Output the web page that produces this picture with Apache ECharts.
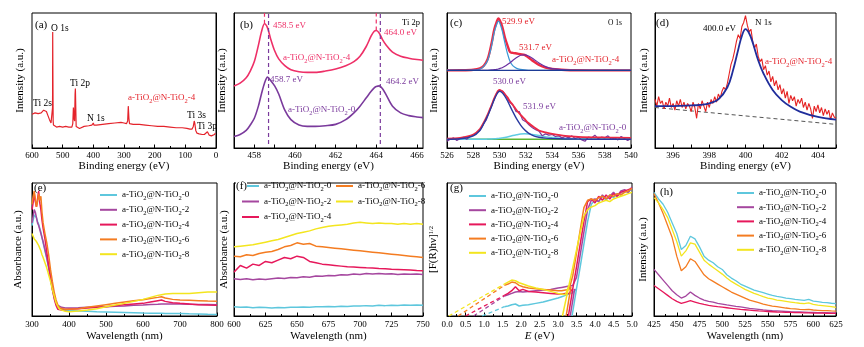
<!DOCTYPE html>
<html><head><meta charset="utf-8">
<script src="https://cdn.jsdelivr.net/npm/echarts@6/dist/echarts.min.js"></script>
<style>html,body{margin:0;padding:0;background:#fff}#c{width:864px;height:347px}</style>
</head><body><div id="c"></div>
<script>
const FONT = "'Liberation Serif','Times New Roman',serif";
const SAMPLES = ['a-TiO2@N-TiO2-0','a-TiO2@N-TiO2-2','a-TiO2@N-TiO2-4','a-TiO2@N-TiO2-6','a-TiO2@N-TiO2-8'];
const COLORS = ['#5ec7dd','#a5479f','#e6185b','#f47c21','#f3e51f'];

// ---------- (a) XPS survey ----------
const aX = [600,590,580,570,562,558,553,548,543,538,535,533,532.5,532,531,530,528,525,520,510,500,490,480,470,467,465,463,461,459.5,458.5,456,452,445,430,415,405,400,398,390,370,350,330,310,300,292,288,286,284,282,278,270,250,230,210,190,170,150,130,110,95,85,78,74,71,69,66,62,55,45,38,35,32,28,22,15,10,5,2,0];
const aY = [25,26,25.5,26,28,29,27,24,21,18.5,17.5,30,86,60,20,17,16,16.5,15.5,16,15.5,16,15.5,15.5,18,30,22,20,40,44,16,17,14.5,16,16.5,17,18.5,17,17,17.5,18,18.5,19,18.5,18,20,31,22,18,17.5,17.5,17.5,17,16.5,16,16,15.5,15,15,14.5,14,14,16,20,18,13,11,10.5,10,10,10.5,11,12,9.5,9,9.5,10,11,11];

// ---------- (b) Ti 2p ----------
const bX = [457.0,457.3,457.6,457.8,458.0,458.2,458.35,458.5,458.65,458.8,459.0,459.2,459.5,459.8,460.2,460.6,461.0,461.5,462.0,462.5,462.9,463.2,463.5,463.75,463.9,464.0,464.15,464.3,464.5,464.8,465.2,465.6,466.0,466.3];
const b4 = [46,48,52,57,64,76,86,92,89,81,72,66,61,58,56.5,56,56,57,58.5,61,64,68,75,83,86.5,87,85,80.5,76,71,68,66.5,65.5,65];
const b0 = [8.5,10,13,17,22,31,40,48,52.5,50,46,40,28,21,17,16,16,16.5,17.5,21,26,31,37,42,44.5,45.5,46,44,39,31,26,24,23,22.5];
const bPeak4 = [458.5,464.0], bPeak4Top = [92,87];
const bPeak0 = [458.7,464.2];
const bLabels = [458,460,462,464,466];
const bTicks = [457,458,459,460,461,462,463,464,465,466];

// ---------- (c) O 1s ----------
const cX = [526,527,528,528.5,528.8,529.1,529.4,529.6,529.8,529.9,530.0,530.2,530.4,530.6,530.8,531.0,531.3,531.6,531.9,532.2,532.6,533.0,533.5,534.0,535,536,538,540];
const c4Fit = [57.5,57.6,58,59,61,66,78,88,94,96,95,90,82,76,71,70.5,70,69.5,69,67,64,61.5,59.5,58.5,57.8,57.6,57.5,57.5];
const c4Ox  = [57.5,57.5,57.7,58.5,60.5,65,76,86,92,94,93,87,78,70,64,61,59,58.2,57.8,57.6,57.5,57.5,57.5,57.5,57.5,57.5,57.5,57.5];
const c4OH  = [57.5,57.5,57.5,57.5,57.5,57.6,57.8,58,58.3,58.5,58.8,59.5,60.5,61.8,63.2,64.8,67,68.7,69,68.2,65.8,63,60.3,58.8,57.9,57.6,57.5,57.5];
const c0Fit = [7,7.5,10,14,19,25,32,37,41,42.5,43,42,40,37.5,34.5,32,28,24.5,21.5,18.5,15.5,13,11.5,10.5,9,8.3,7.8,7.5];
const c0Ox  = [6.5,6.8,9,13,18,24,31,36,40,41.5,42,41,38.5,35,31,27,21.5,17,13.5,11,9,8,7.3,7,6.7,6.6,6.5,6.5];
const c0OH  = [6.5,6.5,6.5,6.5,6.5,6.6,6.7,6.8,7,7.1,7.2,7.5,7.8,8.2,8.7,9.2,9.8,10.3,10.5,10.3,9.8,9.2,8.4,7.7,7,6.7,6.5,6.5];
const cRawX = [526,526.25,526.5,526.75,527,527.25,527.5,527.75,528,528.25,528.5,528.75,529,529.25,529.5,529.75,530,530.25,530.5,530.75,531,531.25,531.5,531.75,532,532.25,532.5,532.75,533,533.25,533.5,533.75,534,534.25,534.5,534.75,535,535.25,535.5,535.75,536,536.25,536.5,536.75,537,537.25,537.5,537.75,538,538.25,538.5,538.75,539,539.25,539.5,539.75,540];
const c0Raw = [5,6.5,7.5,5.5,7,8,6.5,8.5,9.5,11,13,17.5,21,28,34,40,43,42,38.5,34,32,27,27,21,19.5,17,15,13.5,12.5,9,10.5,9.5,10,8.5,9,7.5,8.5,7.5,9,7,8,6,5,8,7.5,9.5,7,8,7.5,9,6.5,7.5,6,8.5,7,5.5,7];
const cBaseX = [526,540], c4Base = [57.5,57.5], c0Base = [6.5,6.5];

// ---------- (d) N 1s ----------
const dX = [395,395.1,395.2,395.3,395.4,395.5,395.6,395.7,395.8,395.9,396,396.1,396.2,396.3,396.4,396.5,396.6,396.7,396.8,396.9,397,397.1,397.2,397.3,397.4,397.5,397.6,397.7,397.8,397.9,398,398.1,398.2,398.3,398.4,398.5,398.6,398.7,398.8,398.9,399,399.1,399.2,399.3,399.4,399.5,399.6,399.7,399.8,399.9,400,400.1,400.2,400.3,400.4,400.5,400.6,400.7,400.8,400.9,401,401.1,401.2,401.3,401.4,401.5,401.6,401.7,401.8,401.9,402,402.1,402.2,402.3,402.4,402.5,402.6,402.7,402.8,402.9,403,403.1,403.2,403.3,403.4,403.5,403.6,403.7,403.8,403.9,404,404.1,404.2,404.3,404.4,404.5,404.6,404.7,404.8,404.9,405];
const dRaw = [36,31,38,33,35,29,34,31,37,30,33,28,35,31,36,30,34,29,33,31,27,34,30,22,33,29,35,31,27,34,30,36,33,38,34,40,37,42,45,43,48,55,62,66,72,79,84,81,90,93,98,91,86,88,79,74,77,68,64,66,58,61,54,57,49,53,46,50,43,47,40,44,37,42,33,39,35,38,31,36,33,37,30,34,28,33,29,22,31,27,32,26,30,24,29,25,28,21,26,23,22];
const dFitX = [395,396,397,397.5,398,398.5,399,399.3,399.6,399.8,400,400.2,400.4,400.7,401,401.5,402,402.5,403,404,405];
const dFit = [31,31,31.5,32,33,36,45,57,73,83,88,85,78,65,55,43,35.5,30.5,27,23,21];
const dBaseX = [395,405], dBase = [30,17.5];
const dLabels = [396,398,400,402,404];
const dTicks = [395,396,397,398,399,400,401,402,403,404,405];

// ---------- (e) UV-vis ----------
const eX = [300,303,306,309,312,315,318,321,324,327,330,335,340,345,350,355,360,365,370,375,380,390,400,425,450,475,500,525,550,575,600,620,640,650,660,680,700,725,750,775,800];
const e0 = [68,72,76,77,74,71,69,66,63,59,55,49,43,36,28,20,14,9,7,5.5,4.8,4.4,4.2,3.8,3.5,3.2,3.0,2.8,2.6,2.4,2.2,2.1,2.0,2.0,1.9,1.8,1.8,1.6,1.5,1.3,1.2];
const e2 = [70,75,80,78,74,70,68,65,62,59,56,50,44,37,29,21,15,10,8,7,6.5,6,6,6.2,6.5,6.8,7,7.3,7.6,8,8.3,8.6,8.8,9,9,9,9,8.8,8.7,8.6,8.5];
const e4 = [80,85,92,86,82,88,94,85,80,72,66,58,48,38,29,20,13,8,5,4.5,4.5,4.7,5,5.5,6,6.5,7,7.8,8.5,9,9.5,10.5,11.5,12,11,10,9.5,9,8.5,8.2,8];
const e6 = [84,90,94,88,82,86,92,87,90,78,70,62,55,46,35,26,18,12,8,6,5.5,5,5,5.5,6.5,7.5,8.5,9.5,10.5,11.5,12.3,13.2,14,14.5,13.5,12.5,12,11.8,11.5,11.2,11];
const e8 = [62,60,58,57,56,55,53,51,49,46,44,40,36,31,26,20,15,10,7,5,4,3.5,3.2,3.8,4.5,5.5,7,8.3,9.5,11,12.5,14,15.5,16,16.5,17,17,17,17.5,18,18];

// ---------- (f) UV-vis zoom ----------
const fX = [600,605,610,615,620,625,630,635,640,645,650,655,660,665,670,675,680,685,690,695,700,705,710,715,720,725,730,735,740,745,750];
const f0 = [7,6.5,6.8,6.2,6.5,6.3,6,6.4,6.2,6.6,6.5,6.8,6.6,7,6.9,7.2,7,7.4,7.2,7.6,7.5,7.8,7.6,8,7.8,8.1,7.9,8.2,8,8.3,8.1];
const f2 = [28,27.5,28,27.2,27.8,27.5,28,28.5,28.2,29,28.8,29.5,29.2,30,29.8,30.5,30.2,31,30.8,31.5,31.2,32,31.6,32,31.5,31.8,31.2,31.6,31.3,31.5,31.2];
const f4 = [33,38,36,39,38,41,40,42,44,43,45,44,41,40,39,38.5,38,37.5,37,36.8,36.5,36.2,36,35.7,35.5,35.2,35,34.8,34.5,34.2,34];
const f6 = [45,44.5,46,45.5,47,48,48.5,50,52,53,55,54,54.5,52.5,52,51.5,51,50.5,50,49.5,49,48.5,48,47.5,47,46.5,46,45.5,45,44.5,44];
const f8 = [52,52.5,53,53.5,54.5,55.5,56.5,57.5,59,60.5,62,63,64,65.5,66.5,67.5,68,68.5,69,70,70.5,70,69.5,70,69.5,69.5,69,69.5,69,69.5,69];

// ---------- (g) Tauc plot ----------
const gX = [1.55,1.65,1.75,1.85,1.95,2.05,2.2,2.4,2.6,2.8,3.0,3.1,3.2,3.3,3.4,3.5,3.6,3.7,3.8,3.9,4.0,4.1,4.2,4.3,4.4,4.5,4.6,4.7,4.8,4.9,5.0];
const g0 = [7,7.5,8.5,9,7.5,8,8.5,9.5,10.5,12,13.5,14.5,15.5,16.5,17.5,20.5,37,54,71,84,87,86,90,87,91,89,92,91,94,93,96];
const g2 = [15,16,17,18,18.5,18,18.5,19,19.5,20,21,21.5,22,22.5,23,29,46,63,80,87,88,86,91,88,90,93,90,94,95,93,97];
const g4 = [15.5,17,19,22,19,20,18.5,18,17.5,17,16.5,16.5,17,17,20.5,37,54,71,86,88,85,90,87,91,88,92,90,93,94,95,96];
const g6 = [23,24,25.5,25,23,22,21,20.5,20,19.5,19,19,19.5,20,30.5,47.5,64.5,81.5,87,88,87,89,90,88,91,90,92,91,93,94,96];
const g8 = [24,25.5,27,26.5,25,24,22.5,21,20,18.5,17,16.5,16,23.5,36.5,49.5,62.5,75,80,82,83,85,86,87,86,88,89,90,91,92,93];
const gTanX0 = [3.38,3.33,3.28,3.22,3.12], gTanX1 = [3.5,3.45,3.4,3.35,3.3], gTanY1 = [20.4,20.4,20.4,22.1,23.4];
const gDashX0 = [0.95,0.72,0.5,0.3,0.05], gDashX1 = [1.55,1.55,1.55,1.55,1.55], gDashY1 = [7,15,15.5,23,24];

// ---------- (h) PL ----------
const hX = [425,430,435,440,445,450,455,460,465,470,475,480,485,490,495,500,505,510,515,520,525,530,535,540,545,550,555,560,565,570,575,580,585,590,595,600,605,610,615,620,625];
const h0 = [93,88,84,78,70,62,50,53,60,58,52,45,42,40,37,35,31,28.5,26.5,24,22.5,21,19.5,18.5,17.5,16.5,15.5,14.8,14.2,13.5,13,12.5,12.2,11.8,12.5,11.2,10.8,10.3,10,9.6,9.3];
const h2 = [35,31,27,23,19,16,13.5,15,18,15.5,13.5,12,11,10.5,9.5,9,8.3,7.8,7.2,6.8,6.3,5.8,5.4,5,4.6,4.3,4,3.8,3.6,3.4,3.2,3.1,3,2.9,2.8,2.7,2.6,2.5,2.5,2.4,2.4];
const h4 = [23,20.5,18,15.5,13,11,9.5,10.5,11.5,10.5,9.5,8.7,8,7.5,7,6.6,6.2,5.8,5.4,5,4.7,4.4,4.1,3.8,3.6,3.4,3.2,3,2.9,2.8,2.7,2.6,2.5,2.4,2.3,2.2,2.1,2.1,2,2,2];
const h6 = [92,85,77,68,59,45,34,37,43,41,36,31,28,26,24,22,20,18,16.5,15,13.5,12,11,10,9,8.2,7.5,7,6.5,6,5.6,5.3,5,4.8,5,4.5,4.3,4.1,4,3.8,3.7];
const h8 = [89,85,80,74,65,56,45,49,55,54,48,42,39,36.5,34,31.5,28.5,26,24,22,20,18.5,17,15.8,14.5,13.5,12.8,12,11.5,11,10.5,10,9.6,9.3,9.8,8.7,8.2,7.8,7.4,7,6.5];

// ================= build =================
const zip = (xs, ys) => xs.map((x, i) => [x, ys[i]]);
function L(idx, name, xs, ys, color, width, opt) {
  opt = opt || {};
  return {
    type: 'line', name: name, xAxisIndex: idx, yAxisIndex: idx, data: zip(xs, ys),
    symbol: 'none', showSymbol: false, silent: true, smooth: opt.smooth || false,
    lineStyle: { color: color, width: width, type: opt.dash ? [4, 3] : 'solid' },
    itemStyle: { color: color }, z: opt.z || 2
  };
}
const series = [];
series.push(L(0, 'a', aX, aY, '#e4232b', 1.2));
series.push(L(1, 'b4', bX, b4, '#ee2f67', 1.6, {smooth: 0.3}));
series.push(L(1, 'b0', bX, b0, '#7a3a9c', 1.6, {smooth: 0.3}));
bPeak4.forEach((p, i) => series.push(L(1, 'bp4' + i, [p, p], [bPeak4Top[i], 100], '#ee2f67', 1.2, {dash: true})));
bPeak0.forEach((p, i) => series.push(L(1, 'bp0' + i, [p, p], [3, 100], '#7a3a9c', 1.2, {dash: true})));
series.push(L(2, 'c4f', cX, c4Fit, '#ec2a45', 2.4, {smooth: 0.3}));
series.push(L(2, 'c4o', cX, c4Ox, '#3b98d6', 1.2, {smooth: 0.3}));
series.push(L(2, 'c4h', cX, c4OH, '#6b2fa0', 1.2, {smooth: 0.3}));
series.push(L(2, 'c4b', cBaseX, c4Base, '#1d3b96', 1.2));
series.push(L(2, 'c0b', cBaseX, c0Base, '#5cb531', 1.5));
series.push(L(2, 'c0h', cX, c0OH, '#5fcbe3', 1.5, {smooth: 0.3}));
series.push(L(2, 'c0r', cRawX, c0Raw, '#7a3a9c', 1.2));
series.push(L(2, 'c0f', cX, c0Fit, '#ec2a45', 1.8, {smooth: 0.3}));
series.push(L(2, 'c0o', cX, c0Ox, '#2a3aa0', 1.4, {smooth: 0.3}));
series.push(L(3, 'dB', dBaseX, dBase, '#555', 1, {dash: true}));
series.push(L(3, 'dR', dX, dRaw, '#e52222', 1.1));
series.push(L(3, 'dF', dFitX, dFit, '#1f2d9b', 1.8, {smooth: 0.4}));
const eY = [e0, e2, e4, e6, e8], fY = [f0, f2, f4, f6, f8], gY = [g0, g2, g4, g6, g8], hY = [h0, h2, h4, h6, h8];
SAMPLES.forEach((s, i) => series.push(L(4, s, eX, eY[i], COLORS[i], 1.5)));
SAMPLES.forEach((s, i) => series.push(L(5, s, fX, fY[i], COLORS[i], 1.5)));
SAMPLES.forEach((s, i) => {
  series.push(L(6, s, gX, gY[i], COLORS[i], 1.5));
  series.push(L(6, 'gt' + i, [gTanX0[i], gTanX1[i]], [0, gTanY1[i]], COLORS[i], 1.5));
  series.push(L(6, 'gd' + i, [gDashX0[i], gDashX1[i]], [0, gDashY1[i]], COLORS[i], 1.3, {dash: true}));
});
SAMPLES.forEach((s, i) => series.push(L(7, s, hX, hY[i], COLORS[i], 1.3)));

const grids = [
  {left: 32, top: 13, width: 184, height: 135},
  {left: 234, top: 13, width: 189, height: 135},
  {left: 447, top: 13, width: 184, height: 135},
  {left: 655, top: 13, width: 181, height: 135},
  {left: 32, top: 183, width: 185, height: 133},
  {left: 234, top: 183, width: 189, height: 133},
  {left: 447, top: 183, width: 185, height: 133},
  {left: 654, top: 183, width: 182, height: 133}
].map(g => Object.assign(g, {show: true, borderColor: '#000', borderWidth: 1, backgroundColor: 'transparent', containLabel: false, outerBoundsMode: 'none'}));

const RICH = {
  s: {fontSize: 6.5, lineHeight: 7, verticalAlign: 'bottom', fontFamily: FONT},
  i: {fontStyle: 'italic', fontSize: 11, fontFamily: FONT},
  sup: {fontSize: 6.5, lineHeight: 7, verticalAlign: 'top', fontFamily: FONT}
};
function xa(idx, o) {
  const top = idx < 4;
  const base = {
    gridIndex: idx, type: 'value', min: o.min, max: o.max, inverse: !!o.inverse,
    name: o.name || (top ? 'Binding energy (eV)' : 'Wavelength (nm)'), nameLocation: 'middle',
    nameGap: top ? 12 : 14.5,
    nameTextStyle: {fontFamily: FONT, fontSize: 11, color: '#000', rich: RICH},
    axisLine: {show: true, lineStyle: {color: '#000', width: 1}},
    axisTick: {show: true, inside: true, length: 3.5, lineStyle: {color: '#000'}},
    minorTick: {show: !o.labels, splitNumber: 2, length: 2, lineStyle: {color: '#000'}},
    axisLabel: {show: true, margin: top ? 3 : 4, fontFamily: FONT, fontSize: 9, color: '#000', showMinLabel: true, showMaxLabel: true},
    splitLine: {show: false}, minorSplitLine: {show: false}
  };
  if (o.interval) base.interval = o.interval;
  if (o.labels) {
    base.axisLabel.customValues = o.labels;
    base.axisTick.customValues = o.ticks;
  }
  if (o.fmt) base.axisLabel.formatter = o.fmt;
  return base;
}
const xAxis = [
  xa(0, {min: 0, max: 600, interval: 100, inverse: true}),
  xa(1, {min: 457, max: 466.3, labels: bLabels, ticks: bTicks}),
  xa(2, {min: 526, max: 540, interval: 2}),
  xa(3, {min: 395, max: 405, labels: dLabels, ticks: dTicks}),
  xa(4, {min: 300, max: 800, interval: 100}),
  xa(5, {min: 600, max: 750, interval: 25}),
  xa(6, {min: 0, max: 5, interval: 0.5, name: '{i|E} (eV)', fmt: v => v.toFixed(1)}),
  xa(7, {min: 425, max: 625, interval: 25})
];
const yNames = ['Intensity (a.u.)', 'Intensity (a.u.)', 'Intensity (a.u.)', 'Intensity (a.u.)', 'Absorbance (a.u.)', 'Absorbance (a.u.)', '[F(R)hν]{sup|1/2}', 'Intensity (a.u.)'];
const yGaps = [6.5, 6.5, 7.5, 5, 8.5, 4, 8, 5.5];
const yAxis = yNames.map((n, i) => ({
  gridIndex: i, type: 'value', min: 0, max: 100, name: n, nameLocation: 'middle', nameGap: yGaps[i],
  nameTextStyle: {fontFamily: FONT, fontSize: 11, color: '#000', rich: RICH},
  axisLine: {show: true, lineStyle: {color: '#000', width: 1}},
  axisTick: {show: false}, axisLabel: {show: false}, splitLine: {show: false}
}));

const fmtName = n => n.replace(/TiO2/g, 'TiO{s|2}');
function lg(data, left, top, gap) {
  return {
    data: data, left: left, top: top, orient: 'vertical', padding: 0, itemGap: gap,
    icon: 'rect', itemWidth: 17, itemHeight: 2, selectedMode: false, formatter: fmtName,
    textStyle: {fontFamily: FONT, fontSize: 9, color: '#000', lineHeight: 13, rich: RICH}
  };
}
const legend = [
  lg(SAMPLES, 100, 188.5, 1.8),
  lg([SAMPLES[0], SAMPLES[1], SAMPLES[2]], 242, 179.5, 2.5),
  lg([SAMPLES[3], SAMPLES[4]], 336, 179.5, 2.5),
  lg(SAMPLES, 469, 189.5, 1.2),
  lg(SAMPLES, 737, 186.5, 1.2)
];

function T(x, y, text, color, size, bg) {
  return {type: 'text', x: x, y: y, silent: true, z: 100,
    style: {text: text, fill: color || '#000', fontSize: size || 9, fontFamily: FONT, lineHeight: 13,
      align: 'left', verticalAlign: 'middle', rich: RICH, backgroundColor: bg || 'transparent'}};
}
const RED = '#e4232b', PINK = '#ee2f67', PUR = '#7a3a9c';
const tag = fmtName('a-TiO2@N-TiO2-4'), tag0 = fmtName('a-TiO2@N-TiO2-0');
const graphic = [
  T(35, 25, '(a)', '#000', 11), T(51, 28, 'O 1s', '#000', 9.5), T(70, 83, 'Ti 2p', '#000', 9.5),
  T(33, 103, 'Ti 2s', '#000', 9.5), T(87, 118, 'N 1s', '#000', 9.5), T(128, 98, tag, RED, 9),
  T(187, 115, 'Ti 3s', '#000', 9.5), T(197, 126, 'Ti 3p', '#000', 9.5),
  T(240, 25, '(b)', '#000', 11), T(402, 23, 'Ti 2p', '#000', 8.5),
  T(273, 26, '458.5 eV', PINK, 9), T(384, 33, '464.0 eV', PINK, 9), T(283, 58, tag, PINK, 9),
  T(270, 80, '458.7 eV', PUR, 9), T(386, 82, '464.2 eV', PUR, 9), T(288, 110, tag0, PUR, 9),
  T(450, 23, '(c)', '#000', 11), T(608, 23, 'O 1s', '#000', 7.5),
  T(502, 22, '529.9 eV', RED, 9), T(519, 48, '531.7 eV', RED, 9), T(552, 60, tag, RED, 9),
  T(493, 82, '530.0 eV', PUR, 9), T(523, 107, '531.9 eV', PUR, 9), T(559, 128, tag0, PUR, 9),
  T(656, 23, '(d)', '#000', 11), T(703, 29, '400.0 eV', '#000', 9), T(755, 23, 'N 1s', '#000', 9),
  T(765, 62, tag, RED, 9),
  T(34, 188, '(e)', '#000', 11), T(236, 186, '(f)', '#000', 11, '#fff'), T(450, 188, '(g)', '#000', 11), T(660, 192, '(h)', '#000', 11)
];

const chart = echarts.init(document.getElementById('c'), null, {renderer: 'canvas'});
chart.setOption({
  animation: false, backgroundColor: '#fff',
  grid: grids, xAxis: xAxis, yAxis: yAxis, legend: legend, series: series, graphic: graphic
});
</script></body></html>
